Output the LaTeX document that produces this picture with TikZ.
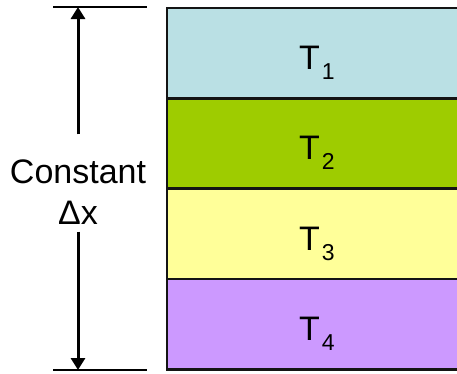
\documentclass[tikz,border=0pt]{standalone}
\usepackage{fontspec}
\setmainfont{Liberation Sans}
\usetikzlibrary{arrows.meta,positioning}
\definecolor{lyedge}{RGB}{20,20,20}
\definecolor{lyone}{RGB}{186,224,228}
\definecolor{lytwo}{RGB}{158,204,0}
\definecolor{lythree}{RGB}{255,255,153}
\definecolor{lyfour}{RGB}{204,153,255}
\newcommand{\lyrname}[1]{T\kern2pt\raisebox{-10pt}{\fontsize{23}{23}\selectfont #1}}
\tikzset{
  layer/.style={
    draw=lyedge, line width=2.6pt, minimum width=300pt, minimum height=90.3pt,
    inner sep=0pt, outer sep=0pt, text height=33pt, text depth=0pt,
    font=\fontsize{34}{40}\selectfont
  },
  tick/.style={draw=black, line width=2.6pt},
  arr/.style={-{Triangle[length=12pt,width=14pt]}, draw=black, line width=3pt},
  anno/.style={align=center, font=\fontsize{34}{41}\selectfont, inner sep=0pt}
}
\begin{document}
\begin{tikzpicture}[x=1pt, y=-1pt, node distance=0pt]
  \useasboundingbox (0,0) rectangle (457,373);
  \clip (0,0) rectangle (457,373);
  % layers
  \node[layer, fill=lyone, anchor=north west] (t1) at (167,8) {\lyrname{1}};
  \node[layer, fill=lytwo, below=of t1] (t2) {\lyrname{2}};
  \node[layer, fill=lythree, below=of t2] (t3) {\lyrname{3}};
  \node[layer, fill=lyfour, below=of t3] (t4) {\lyrname{4}};
  % thickness marker
  \coordinate (tl) at (53,7);
  \coordinate (tr) at (147,7);
  \coordinate (bl) at (53,370);
  \coordinate (br) at (147,370);
  \coordinate (tm) at (78,7);
  \coordinate (bm) at (78,370);
  \draw[tick] (tl) -- (tr);
  \draw[tick] (bl) -- (br);
  \node[anno] (lbl) at (78,192) {Constant\\Δx};
  \draw[arr] ([yshift=25pt]lbl.north) -- (tm);
  \draw[arr] ([yshift=-7pt]lbl.south) -- (bm);
\end{tikzpicture}
\end{document}
